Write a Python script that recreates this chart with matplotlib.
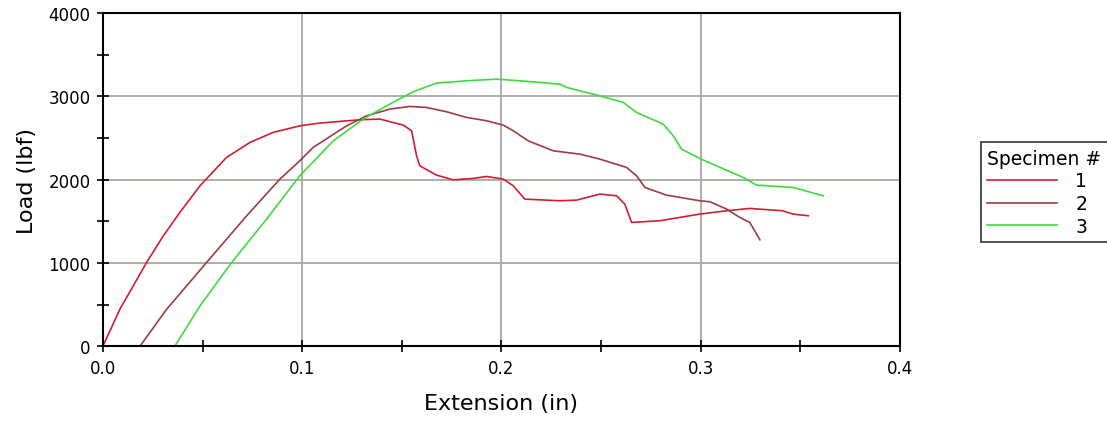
import matplotlib
matplotlib.use("Agg")
from matplotlib import pyplot as plt
from matplotlib.ticker import MultipleLocator

# specimen 1
ext_1 = [0, 0.0085, 0.0152, 0.0219, 0.0303, 0.0386, 0.0487, 0.062, 0.0738, 0.0854,
         0.0988, 0.1089, 0.129, 0.139, 0.1507, 0.1549, 0.1574, 0.159, 0.1674, 0.1758,
         0.1858, 0.1925, 0.2009, 0.2059, 0.2117, 0.2293, 0.2377, 0.2494, 0.2578, 0.2619,
         0.2653, 0.2795, 0.2995, 0.313, 0.3246, 0.341, 0.3464, 0.354]
load_1 = [0, 444, 724, 1005, 1325, 1606, 1926, 2266, 2447, 2567,
          2646, 2679, 2719, 2727, 2655, 2587, 2286, 2166, 2054, 1998,
          2014, 2038, 2006, 1926, 1766, 1746, 1754, 1826, 1806, 1706,
          1486, 1506, 1586, 1626, 1654, 1626, 1586, 1566]

# specimen 2
ext_2 = [0.0186, 0.032, 0.052, 0.0721, 0.0888, 0.0988, 0.1055, 0.1223, 0.1323, 0.144,
         0.154, 0.1624, 0.1724, 0.1825, 0.1925, 0.2009, 0.2059, 0.2134, 0.226, 0.2394,
         0.2494, 0.2628, 0.2678, 0.272, 0.2828, 0.2995, 0.3046, 0.313, 0.3196, 0.3246,
         0.3297]
load_2 = [0, 444, 1005, 1565, 2006, 2226, 2387, 2646, 2766, 2847,
          2879, 2867, 2815, 2747, 2707, 2655, 2587, 2466, 2346, 2306,
          2246, 2146, 2046, 1906, 1814, 1746, 1734, 1646, 1546, 1486,
          1277]

# specimen 3
ext_3 = [0.0361, 0.0487, 0.0646, 0.0821, 0.0988, 0.1156, 0.1306, 0.1424, 0.1557, 0.1674,
         0.1825, 0.1975, 0.2092, 0.2293, 0.2327, 0.2492, 0.2611, 0.2678, 0.2811, 0.2862,
         0.2904, 0.2995, 0.3079, 0.3213, 0.328, 0.3464, 0.3614]
load_3 = [0, 484, 1005, 1525, 2046, 2466, 2727, 2887, 3055, 3159,
          3187, 3207, 3187, 3147, 3107, 3007, 2927, 2807, 2667, 2526,
          2366, 2254, 2166, 2026, 1934, 1906, 1806]

specimens = ["1", "2", "3"]
colors = ["#d21e30", "#9c3c48", "#3cdc3c"]

fig = plt.figure(figsize=(11.07, 4.27), dpi=100)
ax = fig.add_axes([0.093, 0.187, 0.720, 0.780])

for (x, y), c, lab in zip([(ext_1, load_1), (ext_2, load_2), (ext_3, load_3)], colors, specimens):
    ax.plot(x, y, color=c, lw=1.2, label=lab)

ax.set_xlim(0, 0.4)
ax.set_ylim(0, 4000)
ax.xaxis.set_major_locator(MultipleLocator(0.1))
ax.xaxis.set_minor_locator(MultipleLocator(0.05))
ax.yaxis.set_major_locator(MultipleLocator(1000))
ax.yaxis.set_minor_locator(MultipleLocator(500))
ax.xaxis.set_major_formatter(plt.FuncFormatter(lambda v, p: f"{v:.1f}"))
ax.grid(True, which="major", color="#a8a8a0", lw=1.3)
ax.set_axisbelow(True)
ax.tick_params(which="both", direction="inout", color="black", width=1.2, labelsize=12)
ax.tick_params(which="major", length=8, pad=5)
ax.tick_params(which="minor", length=8)
for s in ax.spines.values():
    s.set_linewidth(1.5)
    s.set_color("black")

ax.set_xlabel("Extension (in)", fontsize=16, labelpad=12)
ax.set_ylabel("Load (lbf)", fontsize=16, labelpad=8)

leg = ax.legend(title="Specimen #", loc="upper left", bbox_to_anchor=(0.886, 0.665),
                bbox_transform=fig.transFigure, fancybox=False, edgecolor="black",
                fontsize=13.5, title_fontsize=13.5, handlelength=3.7, handletextpad=1.0,
                labelspacing=0.2, borderpad=0.35, borderaxespad=0, alignment="left")
leg.get_frame().set_linewidth(1.2)

plt.savefig("out.png", dpi=100)
